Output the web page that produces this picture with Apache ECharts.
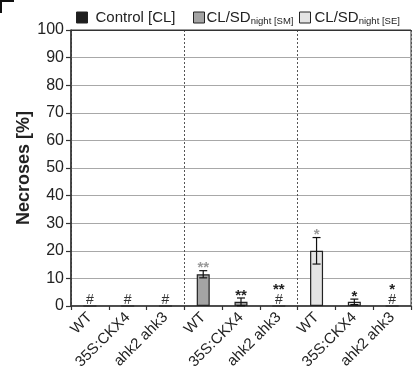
<!DOCTYPE html>
<html><head><meta charset="utf-8">
<script src="https://cdn.jsdelivr.net/npm/echarts@6/dist/echarts.min.js"></script>
<style>html,body{margin:0;padding:0;background:#fff}#c{width:415px;height:385px}</style>
</head><body><div id="c"></div>
<script>
const categories = ['WT','35S:CKX4','ahk2 ahk3','WT','35S:CKX4','ahk2 ahk3','WT','35S:CKX4','ahk2 ahk3'];
const seriesNames = ['Control [CL]','CL/SD night [SM]','CL/SD night [SE]'];
const controlValues = [0, 0, 0];
const smValues = [11.5, 1.5, 0];
const seValues = [20, 1.5, 0];
const controlErr = [0, 0, 0];
const smErr = [1.3, 1.4, 0];
const seErr = [4.8, 1.0, 0];
const starsVsControl = ['', '', '', '**', '', '', '*', '', ''];
const starsVsWT = ['', '', '', '', '**', '**', '', '*', '*'];
const hashMarks = ['#', '#', '#', '', '', '#', '', '', '#'];
const yTicks = {min: 0, max: 100, interval: 10};

const groups = [controlValues, smValues, seValues];
const colors = ['#1e1e1e', '#a4a4a4', '#e4e4e4'];
const FONT = 'Liberation Sans, Arial, sans-serif';

function padSeries(vals, g) {
  const out = new Array(9).fill('-');
  vals.forEach((v, i) => { out[g * 3 + i] = v; });
  return out;
}
const allVals = [].concat(controlValues, smValues, seValues);
const allErr = [].concat(controlErr, smErr, seErr);
const errData = [];
allVals.forEach((v, i) => { if (allErr[i] > 0) errData.push([i, v, allErr[i]]); });
const annData = allVals.map((v, i) => [i, v + allErr[i]]);

const chart = echarts.init(document.getElementById('c'), null, {renderer: 'canvas'});
const barSeries = seriesNames.map((n, g) => ({
  name: n, type: 'bar', data: padSeries(groups[g], g),
  barWidth: 13, barGap: '-100%',
  itemStyle: {color: colors[g], borderColor: '#222', borderWidth: 1.2},
  z: 3
}));
function legendFmt(name) {
  const m = name.match(/^(CL\/SD) (night \[S.\])$/);
  if (m) return '{a|' + m[1] + '}{b|' + m[2] + '}';
  return '{a|' + name + '}';
}
const legendRich = {
  a: {fontSize: 15, fontFamily: FONT, color: '#222'},
  b: {fontSize: 9.5, fontFamily: FONT, color: '#222', padding: [7, 0, 0, 0]}
};
const legendLefts = [76, 193, 299];
const legendTextPad = [3, -3, -1];
const option = {
  animation: false,
  graphic: [
    {type: 'rect', shape: {x: 0, y: 0, width: 14, height: 2}, style: {fill: '#111'}},
    {type: 'rect', shape: {x: 0, y: 0, width: 2, height: 13}, style: {fill: '#111'}}
  ],
  legend: seriesNames.map((n, g) => ({
    data: [n], left: legendLefts[g], top: 10, itemWidth: 11, itemHeight: 11, itemGap: 0,
    icon: 'rect', selectedMode: false, padding: 0,
    itemStyle: {borderColor: '#222', borderWidth: 1},
    formatter: legendFmt, textStyle: {rich: legendRich, padding: [0, 0, 0, legendTextPad[g]]}
  })),
  grid: {left: 71, right: 4, top: 30, bottom: 79, show: true, borderColor: '#333', borderWidth: 1},
  xAxis: [{
    type: 'category', data: categories, position: 'bottom',
    axisLine: {lineStyle: {color: '#333', width: 1.5}},
    axisTick: {show: true, length: 4, lineStyle: {color: '#333', width: 1.2}},
    axisLabel: {rotate: 45, fontSize: 15, fontFamily: FONT, color: '#222', margin: 9, interval: 0,
      formatter: (v, i) => categories[i]}
  }, {
    type: 'value', min: 0, max: 9, interval: 3, position: 'top',
    axisLine: {show: true, lineStyle: {color: '#333', width: 1.2}},
    axisTick: {show: false}, axisLabel: {show: false},
    splitLine: {show: true, lineStyle: {color: '#555', width: 1, type: [2, 2]}}
  }],
  yAxis: {
    type: 'value', min: yTicks.min, max: yTicks.max, interval: yTicks.interval,
    name: 'Necroses [%]', nameLocation: 'middle', nameGap: 38, nameRotate: 90, nameMoveOverlap: false,
    nameTextStyle: {fontSize: 18, fontWeight: 'bold', fontFamily: FONT, color: '#222'},
    axisLine: {show: true, lineStyle: {color: '#333', width: 1.5}},
    axisTick: {show: true, length: 5, lineStyle: {color: '#333', width: 1.2}},
    axisLabel: {fontSize: 16, fontFamily: FONT, color: '#222', margin: 7},
    splitLine: {show: true, lineStyle: {color: '#a8a8a8', width: 1}}
  },
  series: barSeries.concat([{
    type: 'custom', data: errData, z: 5,
    renderItem: function (params, api) {
      const x = api.value(0), v = api.value(1), e = api.value(2);
      const top = api.coord([x, v + e]), bot = api.coord([x, Math.max(0, v - e)]);
      const cx = top[0], hw = 4;
      const st = {stroke: '#111', lineWidth: 1.2};
      return {type: 'group', children: [
        {type: 'line', shape: {x1: cx, y1: top[1], x2: cx, y2: bot[1]}, style: st},
        {type: 'line', shape: {x1: cx - hw, y1: top[1], x2: cx + hw, y2: top[1]}, style: st},
        {type: 'line', shape: {x1: cx - hw, y1: bot[1], x2: cx + hw, y2: bot[1]}, style: st}
      ]};
    }
  }, {
    type: 'custom', data: annData, z: 6,
    renderItem: function (params, api) {
      const i = params.dataIndex;
      const p = api.coord([api.value(0), api.value(1)]);
      const kids = [];
      let y = p[1] + 1;
      if (hashMarks[i]) {
        kids.push({type: 'text', style: {text: hashMarks[i], x: p[0], y: y, align: 'center', verticalAlign: 'bottom',
          fontSize: 14, fontFamily: FONT, fill: '#333'}});
        y -= 14;
      }
      const stars = starsVsControl[i] || starsVsWT[i];
      if (stars) {
        const col = starsVsControl[i] ? '#9a9a9a' : '#222';
        kids.push({type: 'text', style: {text: stars, x: p[0], y: y + 4, align: 'center', verticalAlign: 'bottom',
          fontSize: 15, fontWeight: 'bold', fontFamily: FONT, fill: col}});
      }
      return {type: 'group', children: kids};
    }
  }])
};
chart.setOption(option);
</script></body></html>
